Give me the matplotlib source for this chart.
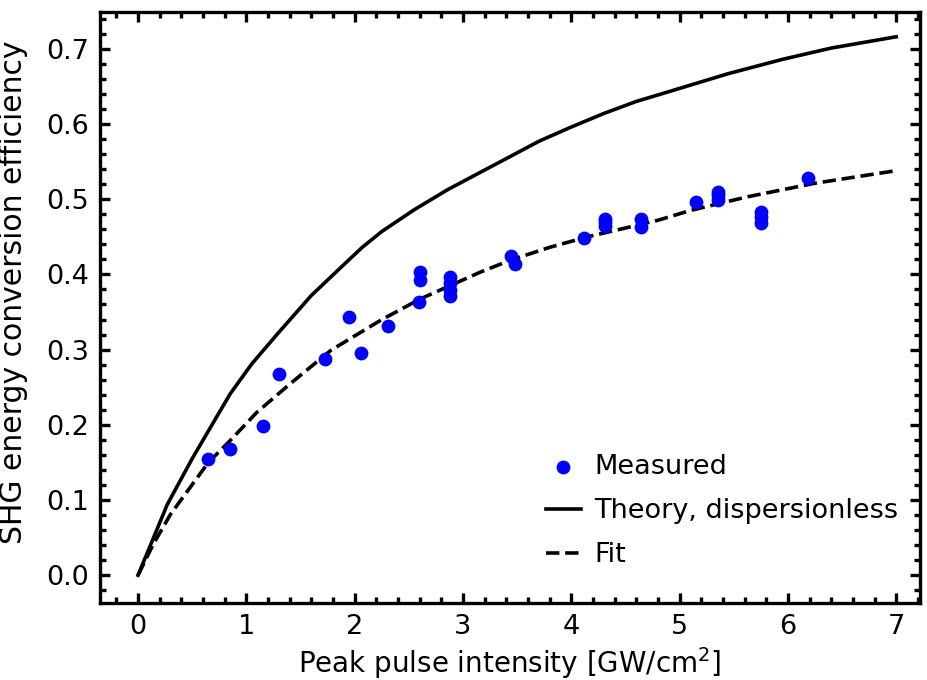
import matplotlib
matplotlib.use("Agg")
import matplotlib.pyplot as plt
from matplotlib.ticker import MultipleLocator

# measured SHG efficiency
meas_x = [0.65, 0.85, 1.15, 1.30, 1.73, 1.95, 2.06, 2.31, 2.59, 2.60, 2.60,
          2.88, 2.88, 2.88, 2.88, 3.44, 3.48, 4.12, 4.31, 4.31, 4.31,
          4.64, 4.64, 5.15, 5.35, 5.35, 5.35, 5.75, 5.75, 5.75, 6.19]
meas_y = [0.155, 0.168, 0.199, 0.268, 0.288, 0.343, 0.295, 0.332, 0.363, 0.392, 0.403,
          0.371, 0.379, 0.388, 0.396, 0.425, 0.414, 0.448, 0.465, 0.470, 0.474,
          0.463, 0.474, 0.496, 0.499, 0.505, 0.510, 0.469, 0.476, 0.483, 0.528]

# dispersionless theory
theory_x = [0, 0.27, 0.5, 0.85, 1.05, 1.3, 1.6, 1.9, 2.07, 2.25, 2.55, 2.85, 3.15, 3.4,
            3.7, 4.0, 4.3, 4.6, 4.9, 5.45, 5.95, 6.4, 7.0]
theory_y = [0, 0.094, 0.155, 0.241, 0.281, 0.323, 0.372, 0.413, 0.436, 0.457, 0.486, 0.512,
            0.535, 0.554, 0.577, 0.596, 0.614, 0.630, 0.643, 0.667, 0.686, 0.701, 0.716]

# fit
fit_x = [0, 0.14, 0.3, 0.65, 0.85, 1.1, 1.4, 1.78, 2.24, 2.6, 2.88, 3.16, 3.44,
         3.8, 4.15, 4.48, 4.8, 5.1, 5.62, 6.24, 7.0]
fit_y = [0, 0.041, 0.081, 0.150, 0.179, 0.217, 0.254, 0.299, 0.339, 0.367, 0.385, 0.403,
         0.419, 0.436, 0.450, 0.461, 0.472, 0.485, 0.503, 0.521, 0.538]

plt.rcParams["font.family"] = "DejaVu Sans"
fs = 19.5

fig = plt.figure(figsize=(9.27, 6.8), dpi=100)
ax = fig.add_axes([0.108, 0.1132, 0.8845, 0.8692])

ax.scatter(meas_x, meas_y, s=80, color="#0000ff", zorder=3, label="Measured")
ax.plot(theory_x, theory_y, color="black", lw=2.6, label="Theory, dispersionless")
ax.plot(fit_x, fit_y, color="black", lw=2.6, ls="--", label="Fit")

ax.set_xlim(-0.35, 7.22)
ax.set_ylim(-0.037, 0.749)
ax.xaxis.set_major_locator(MultipleLocator(1))
ax.xaxis.set_minor_locator(MultipleLocator(0.2))
ax.yaxis.set_major_locator(MultipleLocator(0.1))
ax.yaxis.set_minor_locator(MultipleLocator(0.02))

ax.tick_params(which="both", direction="in", top=True, right=True, width=2.4)
ax.tick_params(which="major", length=7.5, labelsize=fs, pad=8)
ax.tick_params(which="minor", length=4.5)
for sp in ax.spines.values():
    sp.set_linewidth(2.4)

ax.set_xlabel("Peak pulse intensity [GW/cm$^2$]", fontsize=20)
ax.set_ylabel("SHG energy conversion efficiency", fontsize=21.5)
ax.xaxis.set_label_coords(0.5, -0.072)
ax.yaxis.set_label_coords(-0.088, 0.526)

ax.legend(loc="lower right", bbox_to_anchor=(1.0, 0.022), frameon=False, fontsize=fs,
          handlelength=1.3, handletextpad=0.5, labelspacing=0.67, borderaxespad=0.4)

fig.savefig("out.png", dpi=100)
